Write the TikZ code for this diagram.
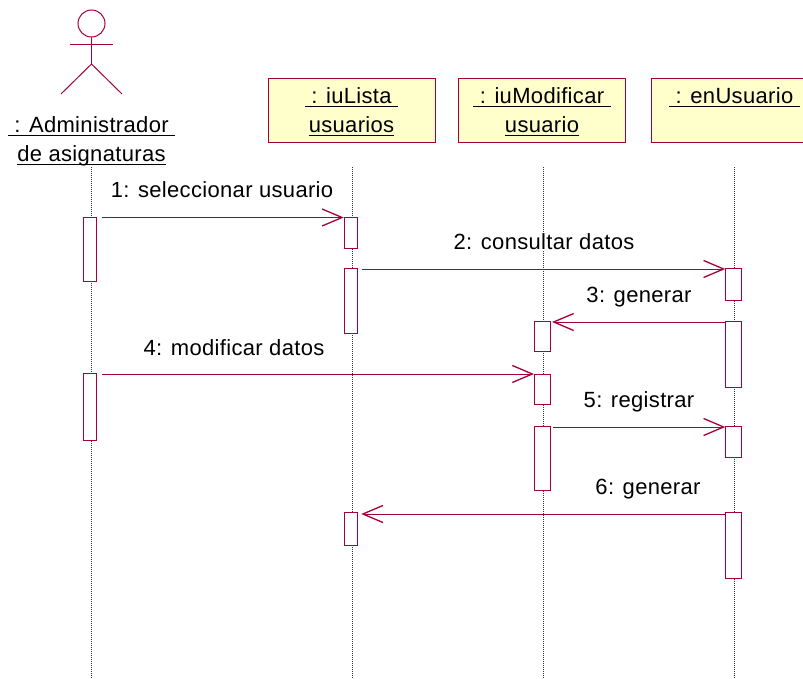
\documentclass[tikz,border=0pt]{standalone}
\usepackage{fontspec}
\setmainfont[LetterSpace=1.5]{Liberation Sans}
\usepackage{amsmath}
\usepackage{tikz}
\usetikzlibrary{arrows.meta}
\definecolor{umlline}{HTML}{A5003C}
\definecolor{umlfill}{HTML}{FFFFCC}
\newcommand{\subr}[1]{\raisebox{1pt}{\underline{\smash[b]{#1}}}}
\tikzset{
  objbox/.style={draw=umlline, fill=umlfill, line width=1pt, minimum width=167pt, minimum height=63.5pt, inner sep=0pt, align=center, font=\fontsize{22}{29}\selectfont, text depth=0pt},
  actbox/.style={draw=umlline, fill=white, line width=1pt, minimum width=#1, inner sep=0pt, anchor=north},
  msg/.style={draw=umlline, line width=1pt, -{Straight Barb[length=20pt,width=17pt,line width=1.3pt]}},
  lifeline/.style={line width=0.6pt, black!80, dash pattern=on 1pt off 1pt},
  msglabel/.style={fill=white, inner sep=1pt, font=\fontsize{22}{26}\selectfont},
  actorline/.style={draw=umlline, line width=1pt}
}
\begin{document}
\begin{tikzpicture}[x=1pt,y=-1pt]
\useasboundingbox (0,0) rectangle (803,679);
\coordinate (headc) at (91.5,23.5);
\coordinate (neck) at (91.5,37.5);
\coordinate (hip) at (91.5,64);
\coordinate (handl) at (70,45);
\coordinate (handr) at (113,45);
\coordinate (footl) at (61,94);
\coordinate (footr) at (122,94);
\draw[actorline] (headc) circle (13.5);
\draw[actorline] (neck)--(hip);
\draw[actorline] (handl)--(handr);
\draw[actorline] (footl)--(hip)--(footr);
\node[align=center, inner sep=0pt, font=\fontsize{22}{29}\selectfont] (admin) at (91.5,141) {\subr{\ : Administrador\ }\\\subr{de asignaturas}};
\node[objbox] (lista) at (351.5,110.5) {\subr{\ : iuLista\ }\\\subr{usuarios}};
\node[objbox] (modif) at (542,110.5) {\subr{\ : iuModificar\ }\\\subr{usuario}};
\node[objbox] (enus) at (734.5,110.5) {\subr{\ : enUsuario\ }\\\mbox{}};
\coordinate (adminlt) at (91.5,167);
\coordinate (adminb) at (91.5,679);
\coordinate (listat) at (352,167);
\coordinate (listab) at (352,679);
\coordinate (modift) at (543,167);
\coordinate (modifb) at (543,679);
\coordinate (enust) at (734.5,167);
\coordinate (enusb) at (734.5,679);
\draw[lifeline] (adminlt)--(adminb);
\draw[lifeline] (listat)--(listab);
\draw[lifeline] (modift)--(modifb);
\draw[lifeline] (enust)--(enusb);
\node[actbox=13pt, minimum height=64pt] (aa) at (90,217) {};
\node[actbox=13pt, minimum height=67pt] (ab) at (90,373) {};
\node[actbox=13.5pt, minimum height=31pt] (la) at (351,217) {};
\node[actbox=13.5pt, minimum height=65pt] (lb) at (351,268) {};
\node[actbox=13.5pt, minimum height=33pt] (lc) at (351,512) {};
\node[actbox=16pt, minimum height=30pt] (ma) at (542.5,321) {};
\node[actbox=16pt, minimum height=30.5pt] (mb) at (542.5,373.5) {};
\node[actbox=16pt, minimum height=64pt] (mc) at (542.5,426) {};
\node[actbox=15.5pt, minimum height=32pt] (ea) at (733.5,268) {};
\node[actbox=15.5pt, minimum height=66pt] (eb) at (733.5,321) {};
\node[actbox=15.5pt, minimum height=31pt] (ec) at (733.5,426) {};
\node[actbox=15.5pt, minimum height=66pt] (ed) at (733.5,512) {};
\draw[msg] ([xshift=5pt,yshift=-.5pt]aa.north east)--([yshift=-.5pt]la.north west);
\draw[msg] ([xshift=4pt,yshift=-1pt]lb.north east)--([yshift=-1pt]ea.north west);
\draw[msg] ([yshift=-1pt]eb.north west)--([xshift=1pt,yshift=-1pt]ma.north east);
\draw[msg] ([xshift=5pt,yshift=-1pt]ab.north east)--([yshift=-.5pt]mb.north west);
\draw[msg] ([xshift=2pt,yshift=-1pt]mc.north east)--([yshift=-1pt]ec.north west);
\draw[msg] ([yshift=-2pt]ed.north west)--([xshift=3pt,yshift=-2pt]lc.north east);
\node[msglabel] (m1) at (222,190) {1: seleccionar usuario};
\node[msglabel] (m2) at (544,242) {2: consultar datos};
\node[msglabel] (m3) at (639,297) {3: generar};
\node[msglabel] (m4) at (234,348) {4: modificar datos};
\node[msglabel] (m5) at (639,402) {5: registrar};
\node[msglabel] (m6) at (648,489) {6: generar};
\end{tikzpicture}
\end{document}
